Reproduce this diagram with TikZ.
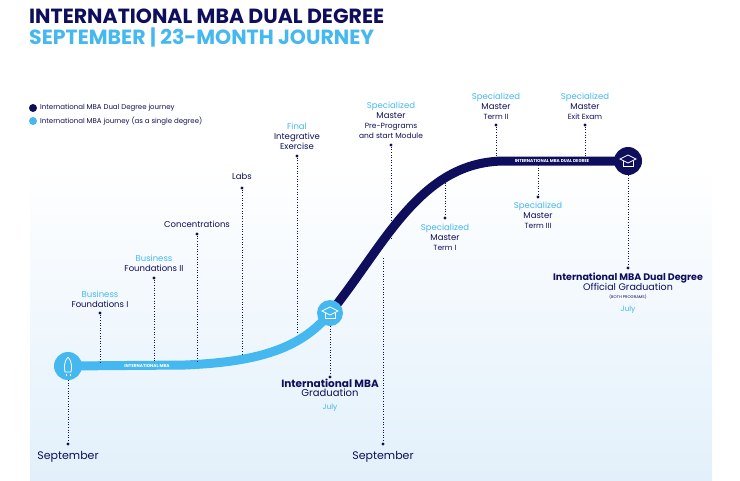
\documentclass[tikz,border=0pt]{standalone}
\usepackage{fontspec}
\setmainfont{Poppins}
\usetikzlibrary{positioning}
\definecolor{navy}{HTML}{0E0E5C}
\definecolor{sky}{HTML}{45B8F0}
\definecolor{bgblue}{HTML}{E2F0FB}
\tikzset{
 lbl/.style={align=center,font=\fontsize{8.5}{10}\selectfont,text=navy,inner sep=0},
 dotn/.style={circle,fill=navy,inner sep=0,minimum size=3.2pt},
 vline/.style={navy,dash pattern=on 1pt off 1.6pt,line width=0.8pt},
 circ/.style={circle,inner sep=0,minimum size=28pt},
}
\newcommand{\hl}[1]{\textcolor{sky}{#1}}
\begin{document}
\begin{tikzpicture}[x=1pt,y=-1pt]
\useasboundingbox (0,0) rectangle (740,480);
\shade[top color=white,bottom color=bgblue] (30,165) rectangle (712,480);
% title
\node[anchor=west,inner sep=0,text=navy,font=\fontsize{20.5}{22}\bfseries\selectfont] (t1) at (29,16) {INTERNATIONAL MBA DUAL DEGREE};
\node[anchor=west,inner sep=0,text=sky,font=\fontsize{20.5}{22}\bfseries\selectfont] (t2) at (29,37) {SEPTEMBER | 23-MONTH JOURNEY};
% legend
\node[circle,fill=navy,minimum size=8pt,inner sep=0] (ld) at (33,108) {};
\node[circle,fill=sky,minimum size=8pt,inner sep=0] (ls) at (33,121) {};
\node[anchor=west,lbl,font=\fontsize{7}{8}\selectfont] (ldt) at (40,108) {International MBA Dual Degree journey};
\node[anchor=west,lbl,font=\fontsize{7}{8}\selectfont] (lst) at (40,121) {International MBA journey (as a single degree)};
% curves
\draw[navy,line width=9pt] (330,313) .. controls (385,245) and (420,161) .. (505,161) -- (628,161);
\draw[sky,line width=9pt] (68,366) -- (185,365) .. controls (255,362) and (300,350) .. (330,313);
\node[text=white,font=\fontsize{4.3}{5}\bfseries\selectfont] (lt1) at (147,366) {INTERNATIONAL MBA};
\node[text=white,font=\fontsize{4.3}{5}\bfseries\selectfont] (lt2) at (552,161) {INTERNATIONAL MBA DUAL DEGREE};
% circles
\node[circ,fill=sky] (rock) at (68,366) {};
\draw[white,line width=0.8pt] (68,357) .. controls (72,361) and (72,368) .. (71,372) -- (65,372) .. controls (64,368) and (64,361) .. (68,357);
\draw[white,line width=0.8pt] (66,374) -- (66,376) (70,374) -- (70,376);
\node[circ,fill=sky,minimum size=26pt] (g1) at (330,313) {};
\node[circ,fill=navy] (g2) at (628,161) {};
\foreach \c in {g1,g2}{
 \draw[white,line width=0.8pt] ([xshift=-8pt,yshift=2pt]\c.center) -- ([yshift=6pt]\c.center) -- ([xshift=8pt,yshift=2pt]\c.center) -- ([yshift=-2pt]\c.center) -- cycle;
 \draw[white,line width=0.8pt] ([xshift=-5pt]\c.center) -- ([xshift=-5pt,yshift=-5pt]\c.center) -- ([xshift=5pt,yshift=-5pt]\c.center) -- ([xshift=5pt]\c.center);
}
% dots and lines
\node[dotn] (dsep1) at (68,444) {};
\node[lbl,font=\fontsize{11}{12}\selectfont] (sep1) at (68,457) {September};
\draw[vline] (rock) -- (dsep1);
\node[dotn] (dbf1) at (100,313) {}; \coordinate (cbf1) at (100,362);
\node[lbl] (bf1) at (100,299) {\hl{Business}\\Foundations I};
\draw[vline] (dbf1) -- (cbf1);
\node[dotn] (dbf2) at (154,278) {}; \coordinate (cbf2) at (154,362);
\node[lbl] (bf2) at (154,263) {\hl{Business}\\Foundations II};
\draw[vline] (dbf2) -- (cbf2);
\node[dotn] (dcon) at (197,234) {}; \coordinate (ccon) at (197,361);
\node[lbl] (con) at (197,224) {Concentrations};
\draw[vline] (dcon) -- (ccon);
\node[dotn] (dlab) at (242,188) {}; \coordinate (clab) at (242,355);
\node[lbl] (lab) at (242,176) {Labs};
\draw[vline] (dlab) -- (clab);
\node[dotn] (dfin) at (297,156) {}; \coordinate (cfin) at (297,334);
\node[lbl] (fin) at (297,136) {\hl{Final}\\Integrative\\Exercise};
\draw[vline] (dfin) -- (cfin);
\node[dotn] (dg1) at (330,377) {};
\draw[vline] (g1) -- (dg1);
\node[lbl,anchor=north] (g1t) at (330,379) {\fontsize{10.5}{11.5}\bfseries\selectfont International MBA\\[-1pt]\fontsize{10}{11}\selectfont Graduation\\[3pt]\fontsize{7.5}{9}\selectfont\hl{July}};
\node[dotn] (dpre) at (391,145) {}; \coordinate (cpre) at (391,238);
\node[lbl,anchor=south] (pre) at (391,139) {\hl{Specialized}\\Master\\\fontsize{7.5}{8.5}\selectfont Pre-Programs\\\fontsize{7.5}{8.5}\selectfont and start Module};
\draw[vline] (dpre) -- (cpre);
\coordinate (csep2) at (383,258); \node[dotn] (dsep2) at (383,444) {};
\draw[vline] (csep2) -- (dsep2);
\node[lbl,font=\fontsize{11}{12}\selectfont] (sep2) at (383,457) {September};
\coordinate (ct1) at (445,180); \node[dotn] (dt1) at (445,218) {};
\draw[vline] (ct1) -- (dt1);
\node[lbl,anchor=north] (t1l) at (445,224) {\hl{Specialized}\\Master\\\fontsize{7.5}{8.5}\selectfont Term I};
\node[dotn] (dt2) at (496,125) {}; \coordinate (ct2) at (496,158);
\draw[vline] (dt2) -- (ct2);
\node[lbl,anchor=south] (t2l) at (496,120) {\hl{Specialized}\\Master\\\fontsize{7.5}{8.5}\selectfont Term II};
\coordinate (ct3) at (538,165); \node[dotn] (dt3) at (538,197) {};
\draw[vline] (ct3) -- (dt3);
\node[lbl,anchor=north] (t3l) at (538,202) {\hl{Specialized}\\Master\\\fontsize{7.5}{8.5}\selectfont Term III};
\node[dotn] (dex) at (585,125) {}; \coordinate (cex) at (585,158);
\draw[vline] (dex) -- (cex);
\node[lbl,anchor=south] (exl) at (585,120) {\hl{Specialized}\\Master\\\fontsize{7.5}{8.5}\selectfont Exit Exam};
\node[dotn] (dg2) at (628,268) {};
\draw[vline] (g2) -- (dg2);
\node[lbl,anchor=north] (g2t) at (628,273) {\fontsize{9.5}{11}\bfseries\selectfont International MBA Dual Degree\\\fontsize{9.5}{10.5}\selectfont Official Graduation\\[-2pt]\fontsize{4}{5}\selectfont (BOTH PROGRAMS)\\[3pt]\fontsize{7.5}{9}\selectfont\hl{July}};
\end{tikzpicture}
\end{document}
